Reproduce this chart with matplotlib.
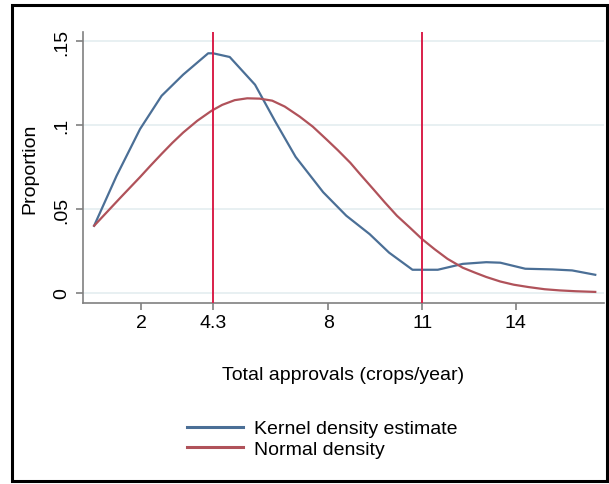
import matplotlib
matplotlib.use("Agg")
from matplotlib import pyplot as plt
from matplotlib.patches import Rectangle

plt.rcParams["font.family"] = ["Liberation Sans", "DejaVu Sans"]

# kernel density estimate
kde_x = [0.5, 1.22, 1.97, 2.66, 3.35, 4.15, 4.31, 4.84, 5.65, 6.3, 6.95, 7.83,
         8.57, 9.32, 9.94, 10.69, 11.5, 12.3, 13.05, 13.5, 14.3, 15.17, 15.8, 16.54]
kde_y = [0.040, 0.0698, 0.0976, 0.1174, 0.130, 0.1427, 0.1427, 0.1405, 0.124, 0.102,
         0.081, 0.060, 0.046, 0.035, 0.024, 0.0138, 0.0138, 0.0173, 0.0183, 0.0180,
         0.0144, 0.014, 0.0134, 0.0108]

# normal density
norm_x = [0.5, 1.33, 1.97, 2.3, 2.66, 3.0, 3.35, 3.8, 4.26, 4.6, 5.0, 5.4, 5.8,
          6.2, 6.6, 7.08, 7.5, 7.95, 8.3, 8.70, 9.0, 9.44, 9.8, 10.19, 10.6, 11.0,
          11.4, 11.81, 12.3, 12.7, 13.05, 13.5, 13.93, 14.4, 14.92, 15.4, 15.92, 16.54]
norm_y = [0.040, 0.0565, 0.0690, 0.0757, 0.0828, 0.0893, 0.0955, 0.1025, 0.1085, 0.1120,
          0.1148, 0.1159, 0.1157, 0.1145, 0.111, 0.105, 0.099, 0.0912, 0.085, 0.0775,
          0.071, 0.0617, 0.054, 0.046, 0.039, 0.032, 0.026, 0.0203, 0.015, 0.012,
          0.0095, 0.0068, 0.0049, 0.0035, 0.0022, 0.0015, 0.001, 0.0006]

vlines = [4.3, 11]
xticks = [2, 4.3, 8, 11, 14]
xtick_labels = ["2", "4.3", "8", "11", "14"]
yticks = [0, 0.05, 0.1, 0.15]
ytick_labels = ["0", ".05", ".1", ".15"]

fig = plt.figure(figsize=(6.09, 4.85), dpi=100)
ax = fig.add_axes([0.1363, 0.3732, 0.8555, 0.5588])

for y in yticks:
    ax.axhline(y, color="#e4eef0", lw=1.2, zorder=0)

ax.plot(kde_x, kde_y, color="#4b6f96", lw=1.6, label="Kernel density estimate", zorder=3)
ax.plot(norm_x, norm_y, color="#b0525a", lw=1.6, label="Normal density", zorder=3)
for v in vlines:
    ax.axvline(v, color="#d91f4a", lw=1.4, zorder=4)

ax.set_xlim(0.144, 16.82)
ax.set_ylim(-0.006, 0.1554)
ax.set_xticks(xticks)
ax.set_xticklabels(xtick_labels)
ax.set_yticks(yticks)
ax.set_yticklabels(ytick_labels, rotation=90, va="center")

for s in ["top", "right"]:
    ax.spines[s].set_visible(False)
for s in ["left", "bottom"]:
    ax.spines[s].set_color("#808080")
    ax.spines[s].set_linewidth(1.2)
ax.tick_params(colors="#808080", labelcolor="black", labelsize=14, length=5, width=1.2)
ax.tick_params(axis="x", pad=3)
ax.tick_params(axis="y", pad=4)

ax.set_xlabel("Total approvals (crops/year)", fontsize=14, labelpad=25)
ax.set_ylabel("Proportion", fontsize=14, labelpad=11)

leg = fig.legend(loc="center", bbox_to_anchor=(0.529, 0.093), frameon=False, fontsize=14,
                 handlelength=2.85, handletextpad=0.57, labelspacing=0.15)
for line in leg.get_lines():
    line.set_linewidth(2.2)

fig.patches.append(Rectangle((12 / 609, 3 / 485), 595 / 609, 476 / 485, transform=fig.transFigure,
                             fill=False, edgecolor="black", lw=2.2))

fig.savefig("out.png", dpi=100, facecolor="white")
